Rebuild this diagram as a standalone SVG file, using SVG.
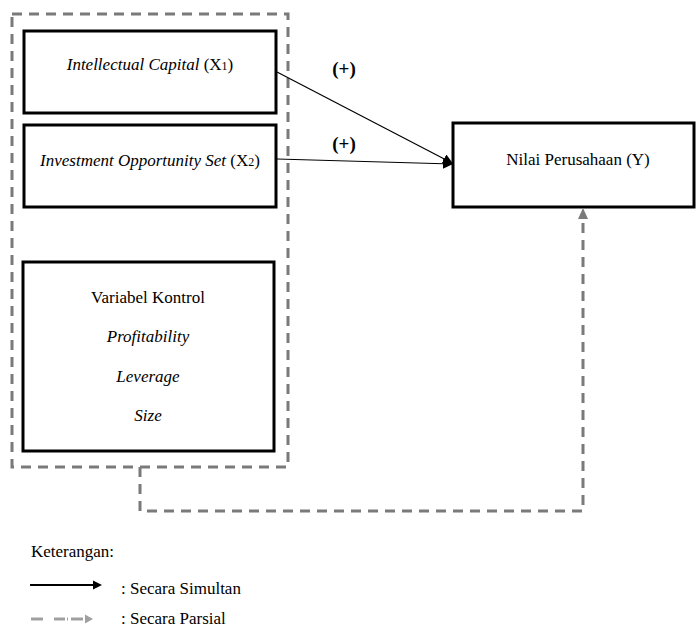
<svg xmlns="http://www.w3.org/2000/svg" width="696" height="630" viewBox="0 0 696 630">
<style>
.box{fill:#fff;stroke:#000;stroke-width:3}
.t{font-family:'Liberation Serif','Times New Roman','DejaVu Serif',serif;font-size:17px;fill:#000}
.c{text-anchor:middle}
.i{font-style:italic}
.b{font-weight:bold;font-size:19px}
.dash{fill:none;stroke:#7a7a7a;stroke-width:3;stroke-dasharray:10 7}
.solid{fill:none;stroke:#000;stroke-width:1.2}
</style>
<defs>
<marker id="ah" markerWidth="10" markerHeight="10" refX="9" refY="5" orient="auto" markerUnits="userSpaceOnUse">
<path d="M0,0 L10,5 L0,10 Z" fill="#000"/>
</marker>
</defs>
<g id="group-x">
<rect class="dash" x="12" y="14" width="276" height="453"/>
</g>
<g id="x1">
<rect class="box" x="24" y="31" width="252" height="82"/>
<text class="t c" x="150" y="70"><tspan class="i">Intellectual Capital</tspan> (X<tspan font-size="12">1</tspan>)</text>
</g>
<g id="x2">
<rect class="box" x="24" y="125" width="252" height="82"/>
<text class="t c" x="150" y="166"><tspan class="i">Investment Opportunity Set</tspan> (X<tspan font-size="12">2</tspan>)</text>
</g>
<g id="control">
<rect class="box" x="23" y="262" width="251" height="189"/>
<text class="t c" x="148" y="303">Variabel Kontrol</text>
<text class="t c i" x="148" y="342">Profitability</text>
<text class="t c i" x="148" y="382">Leverage</text>
<text class="t c i" x="148" y="421">Size</text>
</g>
<g id="y">
<rect class="box" x="453" y="123" width="241" height="84"/>
<text class="t c" x="578" y="165">Nilai Perusahaan (Y)</text>
</g>
<g id="connectors">
<line class="solid" x1="277" y1="72" x2="452" y2="163" marker-end="url(#ah)"/>
<line class="solid" x1="277" y1="159" x2="452" y2="164" marker-end="url(#ah)"/>
<text class="t c b" x="344" y="75">(+)</text>
<text class="t c b" x="344" y="150">(+)</text>
<polyline class="dash" points="140,467 140,511 583,511 583,218"/>
<path d="M578,219 L583,208 L588,219 Z" fill="#7a7a7a"/>
</g>
<g id="legend">
<text class="t" x="31" y="557">Keterangan:</text>
<line x1="30" y1="585" x2="94" y2="585" stroke="#000" stroke-width="2"/>
<path d="M93,580.5 L102,585 L93,589.5 Z" fill="#000"/>
<text class="t" x="121" y="594">: Secara Simultan</text>
<g stroke="#a0a0a0" stroke-width="3">
<line x1="31" y1="619" x2="43" y2="619"/>
<line x1="54" y1="619" x2="65" y2="619"/>
<line x1="67" y1="619" x2="68" y2="619"/>
<line x1="71" y1="619" x2="83" y2="619"/>
</g>
<path d="M85,614.5 L93,619 L85,623.5 Z" fill="#a0a0a0"/>
<text class="t" x="121" y="624">: Secara Parsial</text>
</g>
</svg>
